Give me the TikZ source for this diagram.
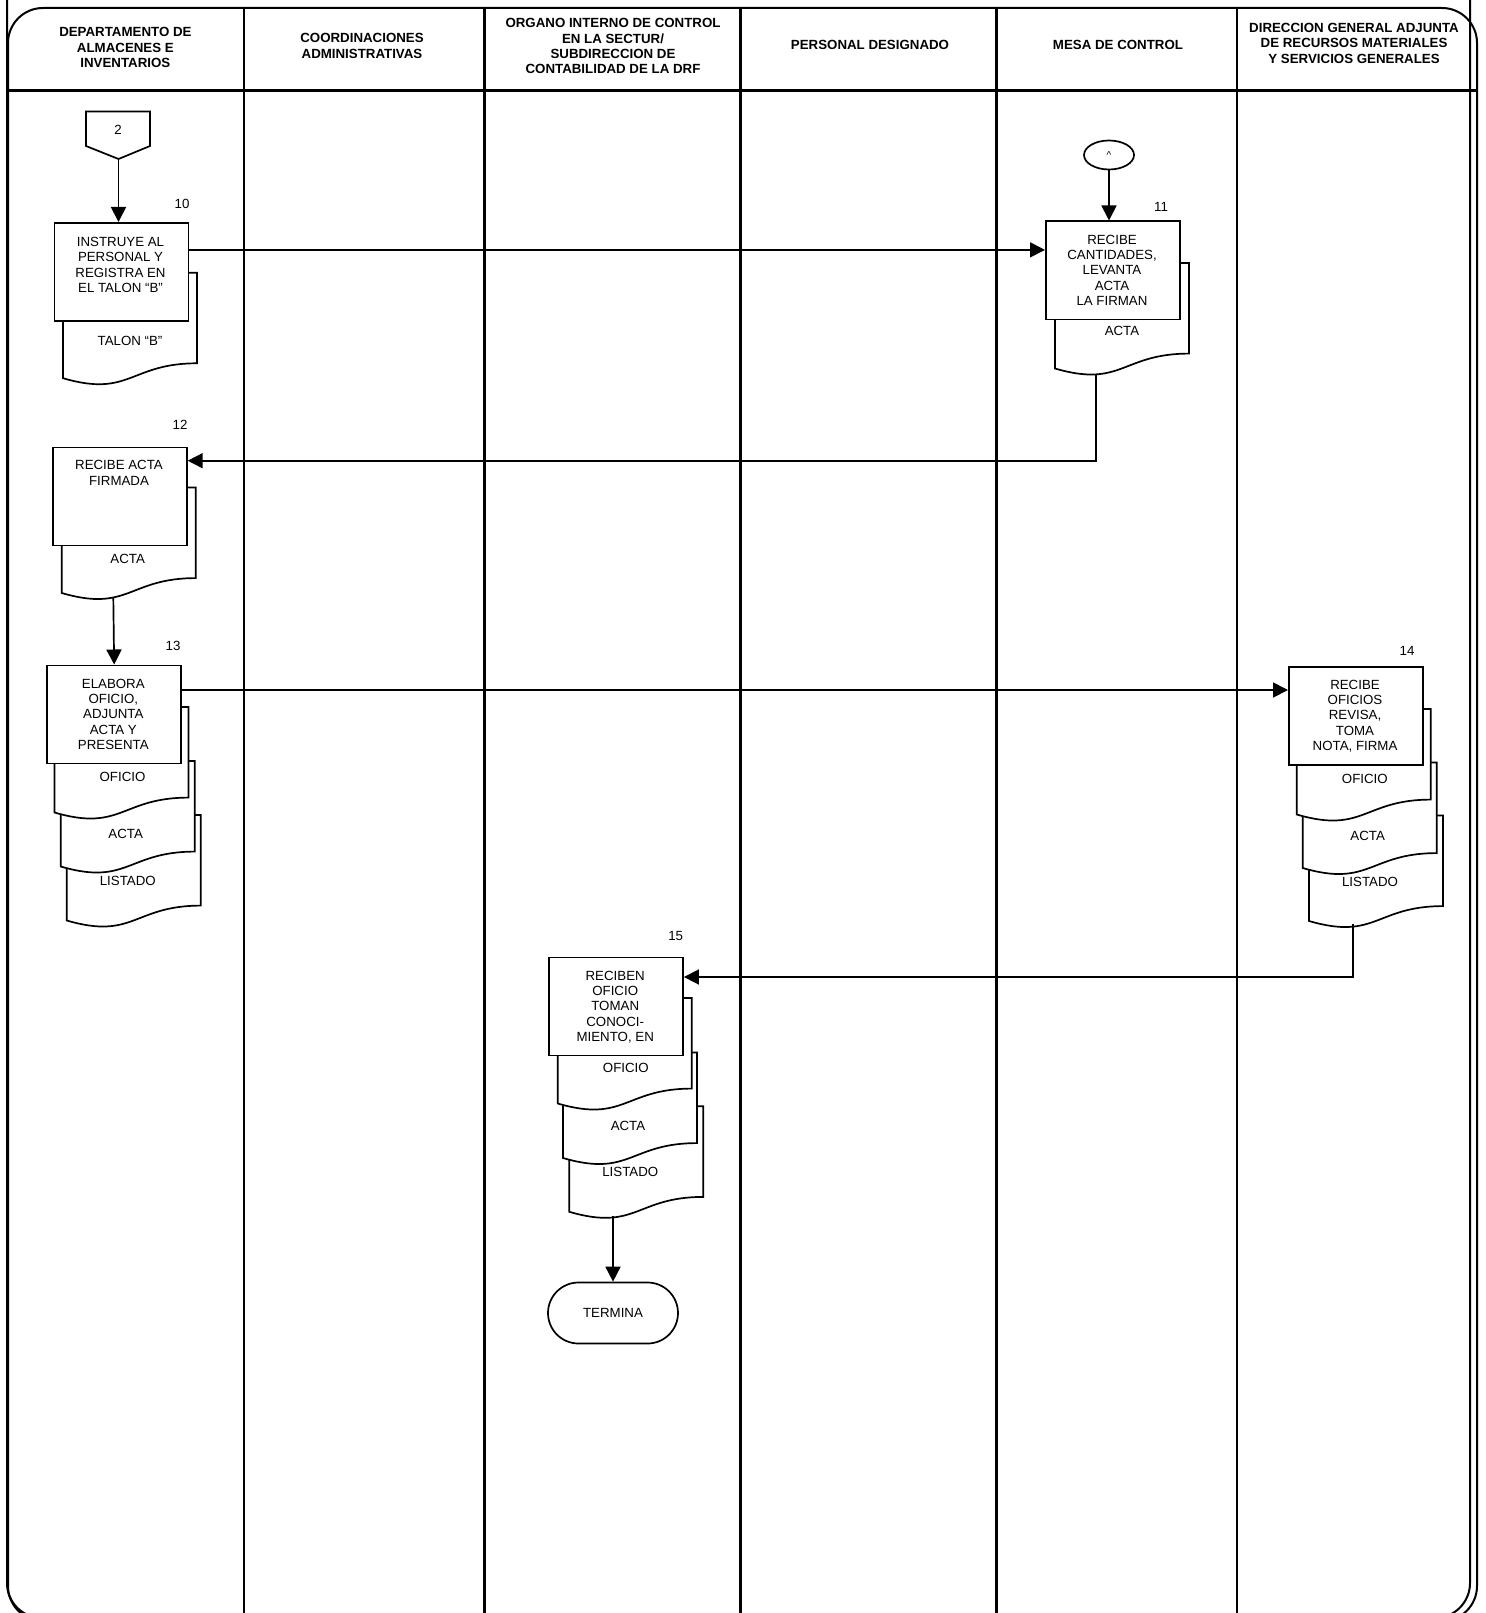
\documentclass[tikz,border=0pt]{standalone}
\usepackage{fontspec}
\setmainfont{Liberation Sans}
\usetikzlibrary{arrows.meta,shapes.geometric,shapes.misc}
\newcommand\fsr{\fontsize{13.3}{15.4}\selectfont}
\newcommand\fsb{\fontsize{13.3}{15.4}\selectfont\bfseries}
\tikzset{
  frameline/.style={line width=2pt},
  laneline/.style={line width=2.2pt},
  boxst/.style={draw, line width=1.7pt, fill=white, minimum width=134pt, minimum height=98pt, anchor=north west, inner sep=0pt},
  btext/.style={font=\fsr, align=center, anchor=north, inner sep=0pt},
  dtext/.style={font=\fsr, inner sep=0pt},
  docline/.style={draw, line width=1.7pt, fill=white},
  numlabel/.style={font=\fsr, inner sep=0pt},
  hdr/.style={font=\fsb, align=center, inner sep=0pt},
  arr/.style={line width=1.7pt, -{Triangle[length=15pt,width=15pt]}},
}
% name, left x, top y, text, text dx, text dy
\newcommand\docu[6]{%
  \path[docline] (#2,#3) -- (#2+134,#3) -- (#2+134,#3+90.6)
    .. controls (#2+67,#3+90.6) and (#2+67,#3+125.1) .. (#2,#3+105.5) -- cycle;
  \node[dtext] (#1) at (#2+67+#5,#3+#6) {#4};
}
\begin{document}
\begin{tikzpicture}[x=1pt,y=-1pt]
\useasboundingbox (0,0) rectangle (1485,1613);
% frame
\begin{scope}
  \clip (0,0) rectangle (1485,1613);
  \draw[frameline, rounded corners=35pt] (7,-60) rectangle (1470,1618);
  \draw[frameline, rounded corners=35pt] (8,8) rectangle (1477,1621);
\end{scope}
% header line and lanes
\draw[laneline] (7,90.5) -- (1477,90.5);
\foreach \lx in {243.7,484.4,740.5,996.5,1237.2}
  \draw[laneline] (\lx,8) -- (\lx,1613);
% headers
\node[hdr] (h1) at (125.4,47.5) {DEPARTAMENTO DE\\ALMACENES E\\INVENTARIOS};
\node[hdr] (h2) at (362,45.8) {COORDINACIONES\\ADMINISTRATIVAS};
\node[hdr] (h3) at (613,46.3) {ORGANO INTERNO DE CONTROL\\EN LA SECTUR/\\SUBDIRECCION DE\\CONTABILIDAD DE LA DRF};
\node[hdr] (h4) at (870,45.3) {PERSONAL DESIGNADO};
\node[hdr] (h5) at (1118,45.3) {MESA DE CONTROL};
\node[hdr] (h6) at (1354,43.2) {DIRECCION GENERAL ADJUNTA\\DE RECURSOS MATERIALES\\Y SERVICIOS GENERALES};

% off-page connector 2
\draw[line width=1.7pt, fill=white] (86,111.5) -- (150,111.5) -- (150,146) -- (118.5,159) -- (86,146) -- cycle;
\node[numlabel] (off2) at (118,129.5) {2};
\coordinate (off2tip) at (118.5,159);

% connector circle
\node[draw, ellipse, line width=1.7pt, minimum width=50pt, minimum height=29pt, inner sep=0pt] (circ) at (1109,155) {\fontsize{10}{11}\selectfont\textasciicircum};

% step 10
\docu{d10}{63}{272.7}{TALON “B”}{0}{68}
\node[boxst] (box10) at (53.5,222) {};
\node[btext] (box10t) at (120.5,236.8) {INSTRUYE AL\\PERSONAL Y\\REGISTRA EN\\EL TALON “B”};
\node[numlabel] (n10) at (182,203.6) {10};

% step 11
\docu{d11}{1055}{263}{ACTA}{0}{68}
\node[boxst] (box11) at (1045,220.5) {};
\node[btext] (box11t) at (1112,234.7) {RECIBE\\CANTIDADES,\\LEVANTA\\ACTA\\LA FIRMAN};
\node[numlabel] (n11) at (1161,207) {11};

% step 12
\docu{d12}{61.7}{487.5}{ACTA}{-1}{71}
\node[boxst] (box12) at (52,446.5) {};
\node[btext] (box12t) at (119,460.5) {RECIBE ACTA\\FIRMADA};
\node[numlabel] (n12) at (180,424.7) {12};

% step 13
\docu{d13c}{66.8}{815}{LISTADO}{-6}{66}
\docu{d13b}{60.7}{761}{ACTA}{-2}{73}
\docu{d13a}{54.5}{707}{OFICIO}{1}{70}
\node[boxst] (box13) at (46.3,664.5) {};
\node[btext] (box13t) at (113.3,678.7) {ELABORA\\OFICIO,\\ADJUNTA\\ACTA Y\\PRESENTA};
\node[numlabel] (n13) at (173,646) {13};

% step 14
\docu{d14c}{1309}{815.5}{LISTADO}{-6}{66}
\docu{d14b}{1302.7}{762.5}{ACTA}{-2}{73}
\docu{d14a}{1296.8}{709}{OFICIO}{1}{70}
\node[boxst] (box14) at (1288,666) {};
\node[btext] (box14t) at (1355,679.7) {RECIBE\\OFICIOS\\REVISA,\\TOMA\\NOTA, FIRMA};
\node[numlabel] (n14) at (1407,651) {14};

% step 15
\docu{d15c}{569.3}{1106.3}{LISTADO}{-6}{66}
\docu{d15b}{563}{1052.5}{ACTA}{-2}{73}
\docu{d15a}{557.8}{998}{OFICIO}{1}{70}
\node[boxst] (box15) at (548.2,956.5) {};
\node[btext] (box15t) at (615.2,970.7) {RECIBEN\\OFICIO\\TOMAN\\CONOCI-\\MIENTO, EN};
\node[numlabel] (n15) at (675.7,936) {15};

% terminal
\node[draw, rounded rectangle, line width=1.7pt, minimum width=130pt, minimum height=61pt, inner sep=0pt, font=\fsr] (term) at (613,1313) {TERMINA};

% connectors
\coordinate (y1) at (0,249.9);
\coordinate (y2) at (0,460.7);
\coordinate (y3) at (0,690);
\coordinate (y4) at (0,977);
\coordinate (c11) at (1096.3,374);
\coordinate (c12) at (113.3,597);
\coordinate (c14) at (1353.3,924);
\coordinate (c15) at (613,1216);
\draw[arr] (off2tip) -- (off2tip |- box10.north);
\draw[arr] (circ.south) -- (circ.south |- box11.north);
\draw[arr] (box10.east |- y1) -- (box11.west |- y1);
\draw[arr] (c11) |- (box12.east |- y2);
\draw[arr] (c12) -- (box13.north);
\draw[arr] (box13.east |- y3) -- (box14.west |- y3);
\draw[arr] (c14) |- (box15.east |- y4);
\draw[arr] (c15) -- (term.north);
\end{tikzpicture}
\end{document}
